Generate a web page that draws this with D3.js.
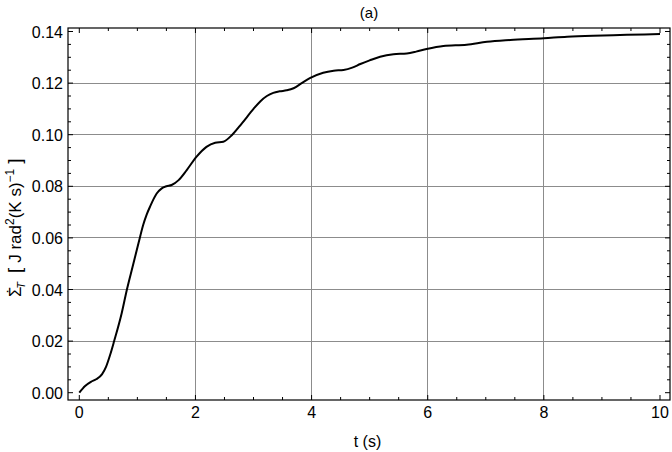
<!DOCTYPE html>
<html><head><meta charset="utf-8">
<script src="https://cdn.jsdelivr.net/npm/d3@7"></script>
<style>body{margin:0;background:#fff}svg{display:block}text{font-family:"Liberation Sans",Arial,sans-serif;fill:#000}</style>
</head><body><svg id="c" width="672" height="452"></svg>
<script>
const tValues = [0,0.1,0.2,0.29,0.39,0.46,0.53,0.6,0.73,0.82,0.92,1.02,1.10,1.16,1.22,1.33,1.42,1.5,1.59,1.71,1.85,2.02,2.19,2.34,2.48,2.63,2.80,3.0,3.12,3.23,3.34,3.45,3.57,3.69,3.83,3.97,4.2,4.38,4.55,4.7,4.84,5.0,5.18,5.41,5.64,5.8,5.98,6.27,6.67,7.02,7.42,8.0,8.4,8.85,9.43,10];
const sigmaValues = [0,0.0026,0.0042,0.0052,0.0071,0.010,0.0146,0.020,0.0308,0.040,0.049,0.058,0.0650,0.0690,0.0722,0.0771,0.0792,0.0800,0.0805,0.0824,0.0863,0.0915,0.0953,0.0969,0.0973,0.0999,0.1044,0.1100,0.1130,0.1150,0.1162,0.1168,0.1172,0.1180,0.1200,0.1219,0.1240,0.1248,0.1251,0.1260,0.1274,0.1288,0.1302,0.1312,0.1315,0.1322,0.1332,0.1344,0.1349,0.1360,0.1367,0.1374,0.1380,0.1384,0.1387,0.1390];
const xTicks = [0,2,4,6,8,10];
const yTicks = [0,0.02,0.04,0.06,0.08,0.10,0.12,0.14];
const xGrid = [2,4,6,8];
const yGrid = [0.02,0.04,0.06,0.08,0.10,0.12];
const title = "(a)";

const svg = d3.select("#c");
const L=68,R=670,T=28,B=400;
const x = d3.scaleLinear().domain([0,10]).range([79.3,660]);
const y = d3.scaleLinear().domain([0,0.14]).range([392.7,31.5]);

// grid
svg.append("g").selectAll("line").data(xGrid).join("line")
  .attr("x1",d=>x(d)).attr("x2",d=>x(d)).attr("y1",T).attr("y2",B)
  .attr("stroke","#8c8c8c").attr("stroke-width",1).attr("shape-rendering","crispEdges");
svg.append("g").selectAll("line").data(yGrid).join("line")
  .attr("y1",d=>y(d)).attr("y2",d=>y(d)).attr("x1",L).attr("x2",R)
  .attr("stroke","#8c8c8c").attr("stroke-width",1).attr("shape-rendering","crispEdges");

// frame
svg.append("rect").attr("x",L).attr("y",T).attr("width",R-L).attr("height",B-T)
  .attr("fill","none").attr("stroke","#000").attr("stroke-width",1.2);

// ticks
const xMinor = d3.range(0,10.01,0.5).filter(v=>!xTicks.includes(v));
const yMinor = d3.range(0,0.1401,0.005).filter(v=>!yTicks.some(t=>Math.abs(t-v)<1e-9));
const tk = svg.append("g").attr("stroke","#000").attr("stroke-width",1);
xTicks.forEach(v=>{tk.append("line").attr("x1",x(v)).attr("x2",x(v)).attr("y1",B).attr("y2",B-5);
  tk.append("line").attr("x1",x(v)).attr("x2",x(v)).attr("y1",T).attr("y2",T+5);});
xMinor.forEach(v=>{tk.append("line").attr("x1",x(v)).attr("x2",x(v)).attr("y1",B).attr("y2",B-3);
  tk.append("line").attr("x1",x(v)).attr("x2",x(v)).attr("y1",T).attr("y2",T+3);});
yTicks.forEach(v=>{tk.append("line").attr("y1",y(v)).attr("y2",y(v)).attr("x1",L).attr("x2",L+5);
  tk.append("line").attr("y1",y(v)).attr("y2",y(v)).attr("x1",R).attr("x2",R-5);});
yMinor.forEach(v=>{tk.append("line").attr("y1",y(v)).attr("y2",y(v)).attr("x1",L).attr("x2",L+3);
  tk.append("line").attr("y1",y(v)).attr("y2",y(v)).attr("x1",R).attr("x2",R-3);});

// tick labels
svg.append("g").selectAll("text").data(xTicks).join("text")
  .attr("x",d=>x(d)).attr("y",418).attr("text-anchor","middle")
  .attr("font-size",16).text(d=>d);
svg.append("g").selectAll("text").data(yTicks).join("text")
  .attr("x",63).attr("y",d=>y(d)+6).attr("text-anchor","end")
  .attr("font-size",16).text(d3.format(".2f"));

// curve
const line = d3.line().x((d,i)=>x(tValues[i])).y(d=>y(d)).curve(d3.curveMonotoneX);
svg.append("path").attr("d",line(sigmaValues)).attr("fill","none")
  .attr("stroke","#000").attr("stroke-width",2).attr("stroke-linejoin","round");

// title & labels
svg.append("text").attr("x",369).attr("y",18).attr("text-anchor","middle").attr("font-size",15).text(title);
svg.append("text").attr("x",367.5).attr("y",447).attr("text-anchor","middle").attr("font-size",16).text("t (s)");

const yl = svg.append("text").attr("transform","translate(21,297) rotate(-90)")
  .attr("text-anchor","start").attr("font-size",17);
yl.append("tspan").text("Σ");
yl.append("tspan").attr("dx",-7).attr("dy",-2).text("˙");
yl.append("tspan").attr("font-size",11).attr("font-style","italic").attr("dx",-1).attr("dy",6).text("T");
yl.append("tspan").attr("dy",-4).attr("dx",9).attr("font-size",19).text("[");
yl.append("tspan").attr("dx",5).text("J rad");
yl.append("tspan").attr("font-size",12).attr("dy",-7).text("2");
yl.append("tspan").attr("dy",7).text("(K s)");
yl.append("tspan").attr("font-size",12).attr("dy",-7).text("−1");
yl.append("tspan").attr("dy",7).attr("dx",5).attr("font-size",19).text("]");
</script></body></html>
